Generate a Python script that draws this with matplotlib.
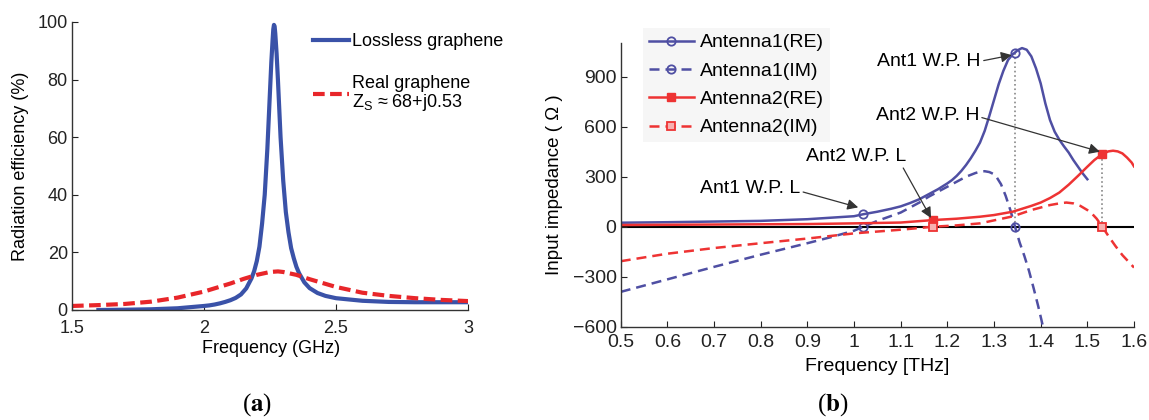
import matplotlib
matplotlib.use("Agg")
import matplotlib.pyplot as plt

plt.rcParams['font.family'] = ['Liberation Sans', 'DejaVu Sans']
plt.rcParams['mathtext.fontset'] = 'stix'

# (a) radiation efficiency vs frequency (GHz)
f_lossless = [1.6, 1.7, 1.8, 1.9, 2.0, 2.02, 2.04, 2.06, 2.08, 2.1, 2.12, 2.14, 2.16,
              2.18, 2.19, 2.2, 2.21, 2.22, 2.23, 2.24, 2.25, 2.255, 2.26, 2.2625, 2.265,
              2.2675, 2.27, 2.275, 2.28, 2.29, 2.3, 2.31, 2.32, 2.33, 2.34, 2.35, 2.36,
              2.38, 2.4, 2.43, 2.46, 2.5, 2.6, 2.7, 2.8, 2.9, 3.0]
eff_lossless = [0, 0.1, 0.25, 0.6, 1.4, 1.6, 1.9, 2.3, 2.8, 3.4, 4.2, 5.4, 7.5,
                11, 13.5, 17, 22, 30, 40, 56, 76, 86, 94, 97.5, 99,
                98.5, 96, 89, 80, 60, 45, 34, 27, 21.5, 18, 15, 12.8,
                9.6, 7.6, 5.9, 4.9, 4.1, 3.2, 2.8, 2.7, 2.7, 2.7]
f_real = [1.5, 1.6, 1.7, 1.8, 1.9, 2.0, 2.1, 2.15, 2.2, 2.25, 2.28, 2.3, 2.35, 2.4,
          2.5, 2.6, 2.7, 2.8, 2.9, 3.0]
eff_real = [1.4, 1.7, 2.1, 2.9, 4.3, 6.4, 9.2, 10.8, 12.2, 13.2, 13.4, 13.2, 12.2, 10.7,
            8.0, 6.0, 4.9, 4.1, 3.5, 3.1]

# (b) input impedance vs frequency (THz)
a1_f_re = [0.5, 0.6, 0.7, 0.8, 0.9, 1.0, 1.02, 1.05, 1.08, 1.1, 1.12, 1.14, 1.16, 1.18,
           1.2, 1.21, 1.22, 1.23, 1.24, 1.25, 1.26, 1.27, 1.28, 1.29, 1.3, 1.31, 1.32,
           1.33, 1.34, 1.345, 1.35, 1.36, 1.37, 1.38, 1.39, 1.4, 1.41, 1.42, 1.43, 1.44,
           1.45, 1.46, 1.47, 1.48, 1.49, 1.5]
a1_re = [24, 27, 31, 35, 45, 63, 75, 90, 108, 122, 142, 165, 195, 225,
         260, 280, 305, 335, 370, 410, 455, 505, 575, 665, 760, 855, 935,
         1000, 1035, 1045, 1058, 1072, 1062, 1022, 950, 860, 740, 640, 570, 522,
         482, 445, 400, 360, 320, 285]
a1_f_im = [0.5, 0.6, 0.7, 0.8, 0.9, 0.95, 1.0, 1.02, 1.05, 1.08, 1.1, 1.12, 1.14, 1.16,
           1.18, 1.2, 1.22, 1.24, 1.26, 1.27, 1.28, 1.29, 1.3, 1.305, 1.315, 1.325, 1.335,
           1.345, 1.355, 1.365, 1.375, 1.385, 1.395, 1.405]
a1_im = [-391, -316, -241, -168, -99, -63, -24, 0, 35, 65, 85, 115, 145, 180,
         210, 240, 270, 300, 322, 330, 333, 328, 315, 300, 255, 185, 100,
         0, -95, -175, -265, -370, -480, -600]
a2_f_re = [0.5, 0.7, 0.9, 1.0, 1.1, 1.17, 1.22, 1.27, 1.3, 1.34, 1.38, 1.4, 1.42, 1.44,
           1.46, 1.48, 1.5, 1.515, 1.532, 1.545, 1.555, 1.565, 1.575, 1.585, 1.595, 1.6]
a2_re = [10, 13, 16, 20, 25, 40, 48, 60, 70, 90, 125, 145, 172, 205,
         252, 305, 360, 400, 436, 452, 456, 452, 440, 415, 385, 362]
a2_f_im = [0.5, 0.6, 0.7, 0.8, 0.9, 1.0, 1.1, 1.17, 1.22, 1.27, 1.34, 1.38, 1.4, 1.42,
           1.44, 1.455, 1.47, 1.485, 1.5, 1.51, 1.52, 1.532, 1.545, 1.56, 1.575, 1.59, 1.6]
a2_im = [-207, -162, -128, -99, -71, -40, -18, 0, 8, 20, 62, 100, 115, 130,
         140, 145, 140, 125, 100, 78, 48, 0, -55, -115, -170, -215, -245]

# working points
a1_wp = [1.02, 1.345]
a2_wp = [1.17, 1.532]

blue_a, red_a = '#3a52a8', '#e8262a'
blue_b, red_b = '#4f4fa3', '#ee3333'

fig = plt.figure(figsize=(11.49, 4.2), dpi=100)

# ---------- panel (a) ----------
ax1 = fig.add_axes([72/1149, 110/420, 396/1149, 288/420])
ax1.plot(f_lossless, eff_lossless, color=blue_a, lw=3, label='Lossless graphene')
ax1.plot(f_real, eff_real, color=red_a, lw=3, dashes=(2.8, 1.3),
         label='Real graphene\n$\\mathregular{Z_S}$ ≈ 68+j0.53')
ax1.set_xlim(1.5, 3)
ax1.set_ylim(0, 100)
ax1.set_xticks([1.5, 2, 2.5, 3])
ax1.set_xticklabels(['1.5', '2', '2.5', '3'])
ax1.set_yticks(range(0, 101, 20))
ax1.set_xlabel('Frequency (GHz)', fontsize=13)
ax1.set_ylabel('Radiation efficiency (%)', fontsize=13)
ax1.xaxis.set_label_coords(0.502, -0.104)
ax1.yaxis.set_label_coords(-0.109, 0.5)
leg1 = ax1.legend(loc='upper left', bbox_to_anchor=(313/1149, 1 - 33/420),
                  bbox_transform=fig.transFigure, frameon=False, fontsize=13,
                  borderpad=0, borderaxespad=0, handlelength=2.0, handletextpad=0.15,
                  labelspacing=1.4)
leg1.get_texts()[1].set_linespacing(0.95)

# ---------- panel (b) ----------
ax2 = fig.add_axes([620.7/1149, 93.3/420, 513.3/1149, 283.3/420])
ax2.axhline(0, color='k', lw=1.5, zorder=1)
ax2.vlines([a1_wp[1], a2_wp[1]], 0,
           [a1_re[a1_f_re.index(a1_wp[1])], a2_re[a2_f_re.index(a2_wp[1])]],
           colors='#888888', linestyles=':', lw=1.2, zorder=1)
ax2.plot(a1_f_re, a1_re, color=blue_b, lw=1.8, marker='o', ms=6, mfc='none', mew=1.3,
         markevery=[a1_f_re.index(f) for f in a1_wp], label='Antenna1(RE)')
ax2.plot(a1_f_im, a1_im, color=blue_b, lw=1.8, ls='--', dashes=(4, 2.4), marker='o', ms=6,
         mfc='none', mew=1.3, markevery=[a1_f_im.index(f) for f in a1_wp], label='Antenna1(IM)')
ax2.plot(a2_f_re, a2_re, color=red_b, lw=1.8, marker='s', ms=6, mfc=red_b,
         markevery=[a2_f_re.index(f) for f in a2_wp], label='Antenna2(RE)')
ax2.plot(a2_f_im, a2_im, color=red_b, lw=1.8, ls='--', dashes=(4, 2.4), marker='s', ms=6,
         mfc='#f7b0b0', mew=1.3, markevery=[a2_f_im.index(f) for f in a2_wp], label='Antenna2(IM)')
ax2.set_xlim(0.5, 1.6)
ax2.set_ylim(-600, 1100)
ax2.set_xticks([0.5 + 0.1 * i for i in range(12)])
ax2.set_xticklabels(['0.5', '0.6', '0.7', '0.8', '0.9', '1', '1.1', '1.2', '1.3', '1.4', '1.5', '1.6'])
ax2.set_yticks([-600, -300, 0, 300, 600, 900])
ax2.set_xlabel('Frequency [THz]', fontsize=14)
ax2.set_ylabel('Input impedance ( Ω )', fontsize=13.5)
ax2.xaxis.set_label_coords(0.5, -0.11)
ax2.yaxis.set_label_coords(-0.112, 0.5)
leg2 = ax2.legend(loc='upper left', bbox_to_anchor=(643/1149, 1 - 28/420),
                  bbox_transform=fig.transFigure, fontsize=14, frameon=True,
                  facecolor='#f6f6f6', edgecolor='none', framealpha=1, fancybox=False,
                  borderpad=0.3, borderaxespad=0, labelspacing=0.55, handlelength=2.3,
                  handletextpad=0.35, numpoints=1)

arrow = dict(arrowstyle='-|>', color='#333333', lw=0.9, mutation_scale=16,
             shrinkA=0, shrinkB=0)
ax2.annotate('Ant1 W.P. H', xy=(1.338, 1030), xytext=(1.272, 990), ha='right', va='center',
             fontsize=14, arrowprops=dict(arrow, relpos=(0.97, 0.5)))
ax2.annotate('Ant2 W.P. H', xy=(1.527, 450), xytext=(1.268, 665), ha='right', va='center',
             fontsize=14, arrowprops=dict(arrow, relpos=(0.97, 0.5)))
ax2.annotate('Ant2 W.P. L', xy=(1.165, 52), xytext=(1.113, 420), ha='right', va='center',
             fontsize=14, arrowprops=dict(arrow, relpos=(0.94, 0.1)))
ax2.annotate('Ant1 W.P. L', xy=(1.009, 116), xytext=(0.885, 228), ha='right', va='center',
             fontsize=14, arrowprops=dict(arrow, relpos=(0.97, 0.4)))

for ax, fs, xpad in ((ax1, 13, 7), (ax2, 14, 5)):
    ax.spines['top'].set_visible(False)
    ax.spines['right'].set_visible(False)
    for s in ('left', 'bottom'):
        ax.spines[s].set_color('#333333')
        ax.spines[s].set_linewidth(1.0)
    ax.tick_params(direction='in', length=4, labelsize=fs, colors='#222222')
    ax.tick_params(axis='x', pad=xpad)
    ax.tick_params(axis='y', pad=3)

fig.text(257/1149, 1 - 405/420, '($\\mathbf{a}$)', ha='center', va='center',
         fontsize=18, family='Liberation Serif')
fig.text(833/1149, 1 - 405/420, '($\\mathbf{b}$)', ha='center', va='center',
         fontsize=18, family='Liberation Serif')

fig.savefig('out.png', dpi=100)
